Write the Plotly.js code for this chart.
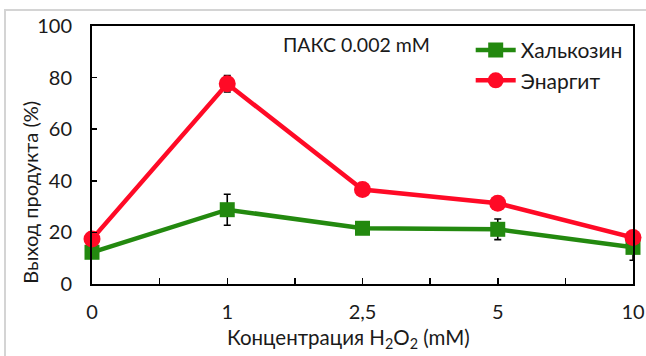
<!DOCTYPE html>
<html>
<head>
<meta charset="utf-8">
<script src="https://cdn.plot.ly/plotly-3.0.1.min.js"></script>
<style>
  html, body { margin: 0; padding: 0; background: #fff; }
  #wrap { position: relative; width: 646px; height: 356px; overflow: hidden; }
  #frame { position: absolute; left: 4px; top: 9px; width: 660px; height: 400px;
           border-left: 2px solid #d4d4d4; border-top: 2px solid #d4d4d4; pointer-events: none; }
  #chart { position: absolute; left: 0; top: 0; width: 646px; height: 356px; }
</style>
</head>
<body>
<div id="wrap">
  <div id="chart"></div>
  <div id="frame"></div>
</div>
<script>
const categories = ['0', '1', '2,5', '5', '10'];
const chalcociteName = 'Халькозин';
const chalcociteValues = [12.3, 28.8, 21.6, 21.2, 14.2];
const chalcociteErrors = [1.0, 6.0, 1.0, 4.0, 5.0];
const enargiteName = 'Энаргит';
const enargiteValues = [17.4, 77.6, 36.6, 31.3, 18.0];
const enargiteErrors = [1.0, 3.2, 1.0, 1.0, 1.0];
const yTicks = [0, 20, 40, 60, 80, 100];
const annotationText = 'ПАКС 0.002 mM';
const xTitle = 'Концентрация H<sub>2</sub>O<sub>2</sub> (mM)';
const yTitle = 'Выход продукта (%)';

const xIdx = categories.map((c, i) => i);
const minorVals = categories.slice(1).map((c, i) => i + 0.5);

const FONT = 'Lato, "Open Sans", sans-serif';
const TXT = '#1a1a1a';
const GREEN = '#23890f';
const RED = '#ff0a26';

const errStyle = { type: 'data', visible: true, color: '#000', thickness: 1.6, width: 3.5 };

const traces = [
  {
    x: xIdx, y: chalcociteValues, name: chalcociteName, legendgroup: 'a',
    type: 'scatter', mode: 'lines+markers',
    line: { color: GREEN, width: 4.5 },
    marker: { symbol: 'square', size: 15, color: GREEN },
    error_y: Object.assign({ array: chalcociteErrors }, errStyle),
    cliponaxis: false
  },
  {
    x: xIdx, y: enargiteValues, name: enargiteName, legendgroup: 'b',
    type: 'scatter', mode: 'lines+markers',
    line: { color: RED, width: 4.5 },
    marker: { symbol: 'circle', size: 17, color: RED },
    error_y: Object.assign({ array: enargiteErrors }, errStyle),
    cliponaxis: false
  }
];

const layout = {
  width: 646, height: 356,
  margin: { l: 92, r: 13, t: 26, b: 72 },
  paper_bgcolor: 'rgba(0,0,0,0)', plot_bgcolor: '#fff',
  font: { family: FONT, size: 20, color: TXT },
  showlegend: true,
  legend: {
    x: 0.7, y: 0.985, xanchor: 'left', yanchor: 'top',
    bgcolor: 'rgba(0,0,0,0)', font: { family: FONT, size: 21, color: TXT },
    tracegroupgap: 0, itemwidth: 40
  },
  xaxis: {
    range: [0, categories.length - 1], tickmode: 'array', tickvals: xIdx, ticktext: categories,
    showgrid: false, zeroline: false, showline: true, linecolor: '#000', linewidth: 2, mirror: true,
    ticks: 'inside', ticklen: 6, tickwidth: 1.5, tickcolor: '#000',
    minor: { tickmode: 'array', tickvals: minorVals, ticks: 'inside', ticklen: 6, tickwidth: 1.5, tickcolor: '#000', showgrid: false },
    tickfont: { family: FONT, size: 20, color: TXT }, ticklabelstandoff: 9,
    fixedrange: true
  },
  yaxis: {
    range: [0, 100], tickmode: 'array', tickvals: yTicks,
    showgrid: false, zeroline: false, showline: true, linecolor: '#000', linewidth: 2, mirror: true,
    ticks: 'inside', ticklen: 5, tickwidth: 1.5, tickcolor: '#000',
    tickfont: { family: FONT, size: 20, color: TXT }, ticklabelstandoff: 14,
    fixedrange: true
  },
  annotations: [
    { text: annotationText, xref: 'paper', yref: 'paper', x: 0.488, y: 0.927,
      xanchor: 'center', yanchor: 'middle', showarrow: false,
      font: { family: FONT, size: 19.5, color: TXT } },
    { text: xTitle, xref: 'paper', yref: 'paper', x: 0.475, y: -0.21,
      xanchor: 'center', yanchor: 'middle', showarrow: false,
      font: { family: FONT, size: 20.5, color: TXT } },
    { text: yTitle, xref: 'paper', yref: 'paper', x: -0.114, y: 0.355, textangle: -90,
      xanchor: 'center', yanchor: 'middle', showarrow: false,
      font: { family: FONT, size: 20, color: TXT } }
  ]
};

Plotly.newPlot('chart', traces, layout, { displayModeBar: false, staticPlot: true });
</script>
</body>
</html>
